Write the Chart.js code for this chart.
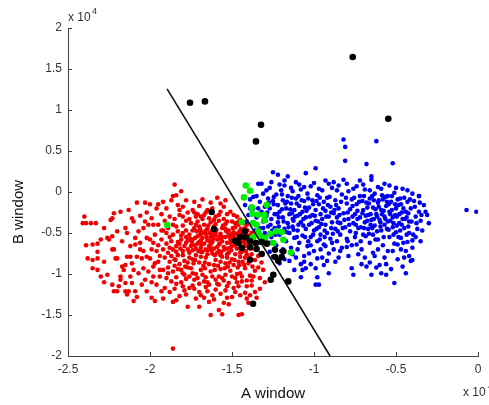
<!DOCTYPE html>
<html>
<head>
<meta charset="utf-8">
<script src="https://cdn.jsdelivr.net/npm/chart.js@4/dist/chart.umd.min.js"></script>
<style>
  html, body { margin: 0; padding: 0; background: #fff; }
  #chart { display: block; }
</style>
</head>
<body>
<canvas id="chart" width="489" height="405"></canvas>
<script>
// axis ticks (A window x 10^4, B window x 10^4)
const xTicks = [-2.5, -2, -1.5, -1, -0.5, 0];
const yTicks = [-2, -1.5, -1, -0.5, 0, 0.5, 1, 1.5, 2];

// decision boundary, two ends [A, B]
const boundary = [[-1.896, 1.258], [-0.902, -2.0]];

// class 1 (red)
const redPoints = [
  [-2.41,-0.38],[-2.39,-0.38],[-2.36,-0.38],[-2.33,-0.38],[-2.40,-0.30],[-2.39,-0.65],[-2.35,-0.64],[-2.32,-0.63],
  [-2.38,-0.81],[-2.35,-0.83],[-2.32,-0.81],[-2.35,-0.93],[-2.32,-0.95],[-2.30,-1.03],[-2.28,-1.10],[-2.26,-1.01],
  [-2.28,-0.85],[-2.32,-0.73],[-2.23,-1.13],[-2.22,-1.21],[-2.20,-1.21],[-2.19,-1.15],[-2.18,-1.03],[-2.18,-1.07],
  [-2.21,-0.81],[-2.20,-0.81],[-2.17,-0.91],[-2.15,-0.89],[-2.16,-0.95],[-2.15,-1.21],[-2.14,-1.25],[-2.13,-1.21],
  [-2.15,-1.11],[-2.11,-1.11],[-2.09,-1.21],[-2.10,-1.33],[-2.12,-1.03],[-2.10,-0.95],[-2.11,-0.87],[-2.14,-0.79],
  [-2.12,-0.79],[-2.08,-0.79],[-2.09,-0.64],[-2.09,-0.56],[-2.14,-0.50],[-2.15,-0.44],[-2.11,-0.32],[-2.10,-0.36],
  [-2.13,-0.22],[-2.18,-0.24],[-2.22,-0.26],[-2.23,-0.32],[-2.24,-0.34],[-2.25,-0.58],[-2.26,-0.56],[-2.23,-0.54],
  [-2.22,-0.70],[-2.23,-0.70],[-2.08,-0.13],[-2.03,-0.13],[-2.00,-0.15],[-1.95,-0.15],[-1.99,-0.32],[-2.03,-0.36],
  [-2.04,-0.44],[-2.07,-0.48],[-2.02,-0.56],[-2.06,-0.62],[-2.04,-0.72],[-2.02,-0.79],[-2.00,-0.81],[-2.04,-0.93],
  [-2.01,-0.97],[-1.98,-1.03],[-2.03,-1.07],[-2.05,-1.13],[-2.02,-1.21],[-1.99,-1.29],[-1.97,-1.33],[-1.96,-1.13],
  [-1.93,-1.21],[-1.94,-1.03],[-1.98,-0.91],[-1.95,-0.85],[-1.96,-0.72],[-1.98,-0.62],[-1.97,-0.52],[-1.95,-0.40],
  [-1.98,-0.40],[-2.01,-0.40],[-1.93,-0.27],[-1.96,-0.20],
  [-1.85,0.09],[-1.86,-0.05],[-1.87,-0.10],[-1.92,-0.12],[-1.90,-0.20],[-1.83,-0.16],[-1.80,-0.18],[-1.88,-0.30],
  [-1.91,-0.35],[-1.85,-0.33],[-1.82,-0.28],[-1.92,-0.47],[-1.89,-0.44],[-1.86,-0.52],[-1.83,-0.48],[-1.80,-0.41],
  [-1.78,-0.35],[-1.93,-0.58],[-1.90,-0.63],[-1.87,-0.60],[-1.84,-0.66],[-1.81,-0.58],[-1.78,-0.62],[-1.92,-0.70],
  [-1.89,-0.74],[-1.86,-0.70],[-1.83,-0.77],[-1.80,-0.72],[-1.77,-0.70],[-1.91,-0.80],[-1.88,-0.85],[-1.85,-0.82],
  [-1.82,-0.88],[-1.79,-0.84],[-1.76,-0.80],[-1.92,-0.95],[-1.89,-0.92],[-1.86,-0.97],[-1.83,-0.94],[-1.80,-0.99],
  [-1.77,-0.92],[-1.90,-1.05],[-1.87,-1.09],[-1.84,-1.04],[-1.81,-1.10],[-1.78,-1.06],[-1.91,-1.17],[-1.88,-1.22],
  [-1.85,-1.18],[-1.82,-1.27],[-1.79,-1.20],[-1.86,-1.34],[-1.84,-1.32],[-1.76,-1.17],[-1.77,-1.40],[-1.86,-1.91],
  [-1.74,-0.22],[-1.70,-0.17],[-1.66,-0.25],[-1.62,-0.20],[-1.58,-0.28],[-1.55,-0.18],[-1.51,-0.24],[-1.47,-0.30],
  [-1.72,-0.30],[-1.64,-0.32],[-1.57,-0.14],
  [-1.75,-0.38],[-1.73,-0.44],[-1.71,-0.36],[-1.69,-0.48],[-1.67,-0.40],[-1.65,-0.45],[-1.63,-0.37],[-1.61,-0.42],
  [-1.60,-0.49],[-1.58,-0.35],[-1.56,-0.44],[-1.54,-0.39],[-1.52,-0.47],[-1.50,-0.36],[-1.48,-0.43],[-1.46,-0.40],
  [-1.44,-0.48],[-1.68,-0.33],[-1.62,-0.47],[-1.55,-0.33],[-1.49,-0.49],[-1.42,-0.44],[-1.74,-0.47],[-1.70,-0.42],
  [-1.76,-0.52],[-1.74,-0.58],[-1.73,-0.65],[-1.71,-0.54],[-1.70,-0.61],[-1.69,-0.68],[-1.68,-0.56],[-1.67,-0.63],
  [-1.66,-0.51],[-1.65,-0.59],[-1.64,-0.66],[-1.63,-0.55],[-1.62,-0.61],[-1.61,-0.69],[-1.60,-0.53],[-1.59,-0.58],
  [-1.58,-0.64],[-1.57,-0.51],[-1.56,-0.60],[-1.55,-0.67],[-1.54,-0.55],[-1.53,-0.62],[-1.52,-0.52],[-1.51,-0.58],
  [-1.50,-0.66],[-1.49,-0.54],[-1.48,-0.61],[-1.47,-0.69],[-1.46,-0.56],[-1.45,-0.63],[-1.44,-0.52],[-1.43,-0.59],
  [-1.42,-0.66],[-1.41,-0.55],[-1.40,-0.62],[-1.39,-0.69],[-1.72,-0.69],[-1.66,-0.70],[-1.59,-0.67],[-1.53,-0.69],
  [-1.47,-0.51],[-1.44,-0.68],[-1.57,-0.57],[-1.63,-0.64],[-1.69,-0.59],[-1.51,-0.62],[-1.45,-0.57],
  [-1.76,-0.74],[-1.74,-0.82],[-1.72,-0.77],[-1.70,-0.86],[-1.68,-0.73],[-1.66,-0.80],[-1.64,-0.88],[-1.62,-0.75],
  [-1.60,-0.83],[-1.58,-0.72],[-1.56,-0.79],[-1.54,-0.87],[-1.52,-0.74],[-1.50,-0.82],[-1.48,-0.76],[-1.46,-0.85],
  [-1.44,-0.73],[-1.42,-0.80],[-1.40,-0.87],[-1.38,-0.76],[-1.36,-0.83],[-1.69,-0.79],[-1.57,-0.85],[-1.45,-0.79],
  [-1.61,-0.89],[-1.53,-0.80],[-1.65,-0.76],[-1.49,-0.89],
  [-1.75,-0.93],[-1.72,-1.00],[-1.69,-0.95],[-1.66,-1.04],[-1.63,-0.97],[-1.60,-1.07],[-1.57,-0.94],[-1.54,-1.01],
  [-1.51,-0.96],[-1.48,-1.05],[-1.45,-0.99],[-1.42,-0.93],[-1.39,-1.02],[-1.36,-0.96],[-1.33,-1.05],[-1.67,-1.09],
  [-1.55,-1.08],[-1.44,-1.09],[-1.34,-0.92],
  [-1.74,-1.14],[-1.70,-1.22],[-1.66,-1.16],[-1.62,-1.26],[-1.58,-1.13],[-1.54,-1.20],[-1.50,-1.28],[-1.46,-1.15],
  [-1.42,-1.23],[-1.38,-1.14],[-1.35,-1.29],[-1.72,-1.30],[-1.60,-1.19],[-1.48,-1.22],[-1.39,-1.26],
  [-1.70,-1.40],[-1.64,-1.34],[-1.58,-1.44],[-1.52,-1.37],[-1.46,-1.50],[-1.44,-1.49],[-1.56,-1.49],[-1.63,-1.50],
  [-1.40,-1.35],
  [-1.37,-0.56],[-1.36,-0.63],[-1.35,-0.70],[-1.34,-0.78],[-1.32,-0.86],[-1.31,-0.95],[-1.30,-1.10],[-1.33,-1.18],
  [-1.36,-1.22],[-1.38,-0.50],
  [-1.745,-0.61],[-1.715,-0.48],[-1.685,-0.64],[-1.655,-0.55],[-1.625,-0.71],[-1.595,-0.46],[-1.565,-0.73],[-1.535,-0.48],
  [-1.505,-0.71],[-1.475,-0.58],[-1.445,-0.45],[-1.415,-0.72],[-1.735,-0.87],[-1.705,-0.72],[-1.675,-0.90],[-1.645,-0.41],
  [-1.615,-0.57],[-1.585,-0.90],[-1.555,-0.41],[-1.525,-0.91],[-1.495,-0.44],[-1.465,-0.92],[-1.435,-0.85],[-1.405,-0.47],
  [-1.385,-0.58],[-1.375,-0.91],[-1.725,-0.56],[-1.695,-0.52],[-1.665,-0.86],[-1.635,-0.50],[-1.605,-0.77],[-1.575,-0.54],
  [-1.545,-0.70],[-1.515,-0.86],[-1.485,-0.65],[-1.455,-0.89],[-1.425,-0.62],[-1.395,-0.80],[-1.78,-0.55],[-1.79,-0.66],
  [-1.77,-0.86],[-1.80,-0.50],[-1.81,-0.95],[-1.79,-1.01],[-1.76,-1.03],[-1.73,-1.07],[-1.70,-1.12],[-1.64,-1.13],
  [-1.58,-1.03],[-1.52,-1.11],[-1.47,-1.00],[-1.41,-1.08],[-1.37,-1.03],[-1.71,-0.27],[-1.67,-0.28],[-1.60,-0.30],
  [-1.53,-0.27],[-1.45,-0.34],[-1.77,-0.25],[-1.82,-0.22],
  [-1.84,-0.42],[-1.81,-0.53],[-1.78,-0.47],[-1.75,-0.66],[-1.72,-0.40],[-1.69,-0.73],[-1.66,-0.47],[-1.63,-0.69],
  [-1.60,-0.39],[-1.57,-0.77],[-1.54,-0.45],[-1.51,-0.68],[-1.48,-0.38],[-1.45,-0.74],[-1.42,-0.51],[-1.39,-0.64],
  [-1.83,-0.61],[-1.80,-0.77],[-1.77,-0.59],[-1.74,-0.71],[-1.71,-0.63],[-1.68,-0.50],[-1.65,-0.71],[-1.62,-0.52],
  [-1.59,-0.74],[-1.56,-0.55],[-1.53,-0.76],[-1.50,-0.51],[-1.47,-0.63],[-1.44,-0.59],[-1.41,-0.76],[-1.38,-0.69],
  [-1.845,-0.83],[-1.815,-0.69],[-1.785,-0.91],[-1.755,-0.57],[-1.725,-0.83],[-1.695,-0.45],[-1.665,-0.93],[-1.635,-0.60],
  [-1.605,-0.95],[-1.575,-0.63],[-1.545,-0.93],[-1.515,-0.54],[-1.485,-0.83],[-1.455,-0.48],[-1.425,-0.89],[-1.395,-0.53],
  [-1.74,-0.99],[-1.71,-1.05],[-1.68,-1.01],[-1.65,-1.10],[-1.62,-1.03],[-1.59,-1.12],[-1.56,-1.05],[-1.53,-1.15],
  [-1.50,-1.03],[-1.47,-1.10],[-1.44,-1.03],[-1.41,-1.15],[-1.38,-1.08],
  [-1.73,-1.18],[-1.69,-1.26],[-1.65,-1.21],[-1.61,-1.31],[-1.57,-1.24],[-1.53,-1.29],[-1.49,-1.17],[-1.45,-1.26],
  [-1.41,-1.30],[-1.67,-1.29],[-1.55,-1.35],
  [-1.80,-0.30],[-1.76,-0.33],[-1.73,-0.25],[-1.69,-0.30],[-1.65,-0.22],[-1.61,-0.34],[-1.57,-0.24],[-1.53,-0.36],
  [-1.49,-0.28],[-1.46,-0.36],[-1.43,-0.38],[-1.41,-0.40],
  [-1.78,-0.10],[-1.73,-0.12],[-1.68,-0.09],[-1.63,-0.13],[-1.59,-0.07],[-1.54,-0.10],[-1.84,-0.04],[-1.81,0.01],
  [-1.88,-0.55],[-1.87,-0.78],[-1.85,-0.90],[-1.84,-0.73],[-1.82,-0.63],[-1.88,-0.68],[-1.86,-0.40],[-1.90,-0.50],
  [-1.89,-0.99],[-1.84,-1.12],[-1.80,-1.15],[-1.78,-1.25],
  [-1.95,-0.65],[-1.94,-0.78],[-1.97,-0.87],[-1.94,-0.95],[-1.99,-0.70],[-1.93,-0.47],[-2.00,-0.58],[-2.05,-0.81],
  [-2.07,-0.99],[-2.06,-0.70],[-2.12,-0.66],[-2.17,-0.60],[-2.20,-0.48],[-2.28,-0.44],[-2.30,-0.58],[-2.06,-0.29],
  [-2.02,-0.25],[-1.99,-1.10],[-2.08,-1.28],[-1.92,-1.30]
];

// class 2 (blue)
const bluePoints = [
  [-1.42,-0.16],[-1.40,-0.28],[-1.39,-0.09],[-1.38,-0.38],[-1.37,-0.20],[-1.36,-0.47],[-1.35,-0.05],[-1.35,-0.31],
  [-1.34,0.10],[-1.37,-0.55],
  [-1.33,-0.12],[-1.32,-0.24],[-1.32,0.10],[-1.31,-0.36],[-1.31,-0.02],[-1.30,-0.50],[-1.30,-0.18],[-1.29,-0.29],
  [-1.29,-0.62],[-1.28,-0.08],[-1.28,-0.42],[-1.33,-0.44],
  [-1.27,0.05],[-1.27,-0.20],[-1.26,-0.33],[-1.26,-0.55],[-1.25,0.24],[-1.25,-0.11],[-1.24,-0.44],[-1.24,-0.27],
  [-1.23,-0.03],[-1.23,-0.65],[-1.22,0.21],[-1.22,-0.16],[-1.22,-0.37],[-1.21,-0.52],[-1.21,-0.24],[-1.20,0.02],
  [-1.20,-0.72],[-1.25,-0.79],[-1.21,-0.87],
  [-1.19,-0.10],[-1.19,-0.31],[-1.18,-0.45],[-1.18,0.08],[-1.17,-0.20],[-1.17,-0.60],[-1.16,0.19],[-1.16,-0.38],
  [-1.16,-0.05],[-1.15,-0.27],[-1.15,-0.50],[-1.14,-0.14],[-1.14,-0.68],[-1.13,0.01],[-1.13,-0.33],[-1.13,-0.42],
  [-1.12,-0.22],[-1.12,-0.56],[-1.15,-0.84],[-1.12,-0.95],
  [-1.11,0.12],[-1.11,-0.08],[-1.10,-0.29],[-1.10,-0.47],[-1.09,-0.17],[-1.09,-0.62],[-1.08,0.03],[-1.08,-0.37],
  [-1.07,-0.24],[-1.07,-0.53],[-1.06,-0.11],[-1.06,-0.78],[-1.05,0.23],[-1.05,-0.31],[-1.05,-0.45],[-1.04,-0.02],
  [-1.04,-0.66],[-1.07,-0.95],[-1.05,-0.93],[-1.08,-1.04],[-1.06,-0.85],[-1.10,-0.70],
  [-1.03,-0.19],[-1.03,-0.40],[-1.02,0.07],[-1.02,-0.55],[-1.01,-0.28],[-1.01,-0.10],[-1.00,-0.47],[-1.00,-0.72],
  [-0.99,0.29],[-0.99,-0.22],[-0.99,-0.35],[-0.98,-0.04],[-0.98,-0.60],[-0.98,-0.81],[-0.97,-0.15],[-0.97,-0.43],
  [-0.96,-0.27],[-0.96,-0.52],[-0.98,-1.04],[-0.97,-1.13],[-0.99,-1.13],[-1.02,-0.88],
  [-0.95,0.02],[-0.95,-0.33],[-0.94,-0.12],[-0.94,-0.64],[-0.93,0.14],[-0.93,-0.40],[-0.93,-0.23],[-0.92,-0.50],
  [-0.92,-0.07],[-0.91,-0.30],[-0.91,-0.75],[-0.90,-0.18],[-0.90,-0.57],[-0.89,-0.37],[-0.89,0.05],[-0.88,-0.26],
  [-0.88,-0.70],[-0.94,-0.89],[-0.91,-0.99],[-0.93,-0.66],
  [-0.87,-0.45],[-0.87,-0.10],[-0.86,-0.31],[-0.86,-0.60],[-0.85,0.08],[-0.85,-0.20],[-0.84,-0.52],[-0.84,-0.38],
  [-0.83,-0.03],[-0.83,-0.68],[-0.82,0.64],[-0.82,-0.26],[-0.82,0.15],[-0.81,0.55],[-0.81,-0.43],[-0.81,0.38],
  [-0.80,-0.14],[-0.80,-0.57],[-0.85,-0.80],
  [-0.79,-0.33],[-0.79,0.01],[-0.78,-0.48],[-0.78,-0.21],[-0.77,-0.65],[-0.77,-0.09],[-0.77,-0.93],[-0.76,-0.38],
  [-0.76,-1.01],[-0.75,-0.27],[-0.75,-0.55],[-0.74,0.07],[-0.74,-0.15],[-0.73,-0.44],[-0.73,-0.76],[-0.72,-0.31],
  [-0.72,-0.05],[-0.71,-0.88],
  [-0.70,-0.22],[-0.70,-0.52],[-0.69,0.03],[-0.69,-0.37],[-0.68,0.34],[-0.68,-0.13],[-0.68,-0.91],[-0.67,-0.45],
  [-0.67,-0.28],[-0.66,-0.62],[-0.66,-0.08],[-0.65,0.19],[-0.65,0.15],[-0.65,-0.34],[-0.65,-1.01],[-0.64,-0.19],
  [-0.64,-0.52],[-0.64,-0.74],
  [-0.63,-0.02],[-0.63,-0.41],[-0.62,-0.27],[-0.62,0.62],[-0.62,-0.92],[-0.61,-0.13],[-0.61,-0.58],[-0.60,-0.34],
  [-0.60,-0.89],[-0.59,0.04],[-0.59,-0.22],[-0.59,-0.47],[-0.59,-0.99],[-0.58,-0.09],[-0.58,-0.65],[-0.57,-0.30],
  [-0.57,-0.40],[-0.56,-0.17],[-0.56,-0.88],[-0.56,-1.01],
  [-0.55,-0.05],[-0.55,-0.36],[-0.54,-0.24],[-0.54,-0.55],[-0.53,-0.12],[-0.53,-0.94],[-0.52,0.35],[-0.52,-0.43],
  [-0.52,-0.31],[-0.51,-0.01],[-0.51,-0.63],[-0.51,-1.11],[-0.50,-0.20],[-0.50,-0.49],[-0.49,-0.82],[-0.49,-0.09],
  [-0.48,-0.38],[-0.48,-0.27],
  [-0.47,-0.15],[-0.47,-0.56],[-0.46,-0.33],[-0.46,-0.91],[-0.45,-0.07],[-0.45,-0.44],[-0.45,-0.80],[-0.44,-0.24],
  [-0.44,-0.99],[-0.43,-0.61],[-0.43,-0.12],[-0.42,-0.36],[-0.42,-0.50],[-0.41,-0.20],[-0.40,-0.59],[-0.40,-0.68],
  [-0.41,-0.84],
  [-0.39,-0.11],[-0.38,-0.30],[-0.37,-0.45],[-0.36,-0.05],[-0.36,-0.24],[-0.35,-0.35],[-0.34,-0.47],[-0.33,-0.16],
  [-0.32,-0.24],[-0.31,-0.28],[-0.30,-0.38],[-0.40,-0.83],[-0.07,-0.22],[-0.01,-0.24],
  [-1.285,-0.25],[-1.265,-0.40],[-1.245,-0.15],[-1.235,-0.52],[-1.215,-0.31],[-1.195,-0.21],[-1.185,-0.58],[-1.165,-0.12],
  [-1.155,-0.43],[-1.135,-0.26],[-1.125,-0.35],[-1.105,-0.55],[-1.095,-0.05],[-1.085,-0.27],[-1.065,-0.41],[-1.055,-0.19],
  [-1.035,-0.60],[-1.025,-0.30],[-1.005,-0.15],[-0.985,-0.45],[-0.965,-0.07],[-0.955,-0.39],[-0.935,-0.55],[-0.915,-0.16],
  [-0.895,-0.44],[-0.875,-0.22],[-0.855,-0.48],[-0.835,-0.12],[-0.815,-0.34],[-0.795,-0.60],[-0.765,-0.17],[-0.745,-0.40],
  [-0.735,-0.23],[-0.715,-0.60],[-0.705,-0.11],[-0.695,-0.44],[-0.685,-0.29],[-0.675,-0.19],[-0.665,-0.51],[-0.655,-0.40],
  [-0.645,-0.05],[-0.635,-0.33],[-0.625,-0.21],[-0.615,-0.48],[-0.605,-0.10],[-0.595,-0.37],[-0.585,-0.27],[-0.575,-0.55],
  [-0.565,-0.06],[-0.555,-0.45],[-0.545,-0.15],[-0.535,-0.35],[-0.525,-0.22],[-0.515,-0.52],[-0.505,-0.28],[-0.495,-0.41],
  [-0.485,-0.16],[-0.475,-0.47],[-0.465,-0.25],[-0.455,-0.62],[-0.435,-0.31],[-0.425,-0.42],[-0.415,-0.09],[-0.395,-0.52],
  [-1.31,-0.44],[-1.27,-0.62],[-1.19,-0.70],[-1.11,-0.80],[-1.03,-0.75],[-0.95,-0.80],[-0.87,-0.85],[-0.79,-0.78],
  [-0.71,-0.70],[-0.63,-0.78],[-0.55,-0.72],[-0.47,-0.70],[-1.26,0.12],[-1.18,0.14],[-1.09,0.09],[-1.00,0.11],
  [-0.91,0.10],[-0.86,0.02],[-0.76,0.04],[-0.70,0.09],[-0.61,0.06],[-0.54,0.08],[-0.46,0.04],[-0.36,-0.05],
  [-1.295,-0.35],[-1.275,-0.13],[-1.255,-0.47],[-1.245,-0.06],[-1.225,-0.27],[-1.215,-0.42],[-1.195,-0.03],[-1.185,-0.36],
  [-1.175,-0.14],[-1.165,-0.49],[-1.145,-0.21],[-1.135,-0.07],[-1.125,-0.46],[-1.115,-0.30],[-1.105,-0.14],[-1.095,-0.40],
  [-1.075,-0.10],[-1.065,-0.33],[-1.055,-0.55],[-1.045,-0.23],[-1.035,-0.08],[-1.015,-0.38],[-1.005,-0.52],[-0.995,-0.29],
  [-0.985,-0.11],[-0.975,-0.36],[-0.965,-0.58],[-0.945,-0.20],[-0.935,-0.47],[-0.925,-0.30],[-0.905,-0.06],[-0.895,-0.25],
  [-0.885,-0.51],[-0.865,-0.16],[-0.855,-0.37],[-0.845,-0.28],[-0.825,-0.44],[-0.805,-0.07],[-0.795,-0.25],[-0.785,-0.40],
  [-0.765,-0.30],[-0.755,-0.07],[-0.745,-0.50],[-0.735,-0.33],[-0.725,-0.12],[-0.715,-0.43],[-0.705,-0.26],[-0.695,-0.05],
  [-0.685,-0.54],[-0.675,-0.35],[-0.665,-0.14],[-0.655,-0.27],[-0.645,-0.44],[-0.635,-0.10],[-0.625,-0.58],[-0.615,-0.30],
  [-0.605,-0.18],[-0.595,-0.42],[-0.585,-0.04],[-0.575,-0.23],[-0.565,-0.33],[-0.555,-0.12],[-0.545,-0.46],[-0.535,-0.27],
  [-0.525,-0.05],[-0.515,-0.38],[-0.505,-0.15],[-0.495,-0.30],[-0.485,-0.55],[-0.475,-0.08],[-0.465,-0.40],[-0.455,-0.20],
  [-0.445,-0.33],[-0.435,-0.52],[-0.425,-0.26],[-0.405,-0.36],[-0.385,-0.18],[-0.375,-0.38],[-0.355,-0.13],[-0.345,-0.28],
  [-1.41,-0.36],[-1.39,-0.20],[-1.37,-0.06],[-1.35,-0.40],[-1.34,-0.20],[-1.32,-0.55],[-1.27,-0.73],[-1.23,-0.80],
  [-1.18,-0.82],[-1.13,-0.76],[-1.08,-0.88],[-1.02,-0.65],[-0.99,-0.93],[-0.96,-0.70],[-0.92,-0.84],[-0.89,-0.62],
  [-0.84,-0.72],[-0.80,-0.67],[-0.74,-0.64],[-0.69,-0.80],[-0.66,-0.86],[-0.61,-0.70],[-0.57,-0.80],[-0.52,-0.72],
  [-0.49,-0.64],[-0.44,-0.72],[-0.42,-0.78],[-0.38,-0.55],[-0.35,-0.60],
  [-1.29,0.02],[-1.21,0.09],[-1.14,0.05],[-1.06,0.06],[-0.97,0.04],[-0.88,0.12],[-0.80,0.10],[-0.72,0.14],
  [-0.66,0.02],[-0.57,0.10],[-0.50,0.05],[-0.43,0.02],[-0.40,-0.02]
];

// green samples
const greenPoints = [
  [-1.416,0.08],[-1.39,0.016],[-1.427,-0.066],[-1.288,-0.155],[-1.380,-0.188],[-1.376,-0.265],[-1.340,-0.277],
  [-1.303,-0.277],[-1.303,-0.346],[-1.370,-0.378],[-1.441,-0.366],[-1.350,-0.399],[-1.340,-0.48],[-1.268,-0.509],
  [-1.232,-0.48],[-1.197,-0.488],[-1.329,-0.533],[-1.299,-0.561],[-1.370,-0.549],[-1.187,-0.582],[-1.248,-0.622],
  [-1.140,-0.737],[-1.895,-0.402]
];

// black samples
const blackPoints = [
  [-1.756,1.089],[-1.665,1.105],[-1.323,0.82],[-1.354,0.617],[-0.764,1.646],[-0.547,0.894],
  [-1.624,-0.244],[-1.610,-0.451],[-1.421,-0.48],[-1.451,-0.549],[-1.415,-0.554],[-1.482,-0.594],[-1.462,-0.622],
  [-1.390,-0.602],[-1.354,-0.622],[-1.319,-0.61],[-1.288,-0.63],[-1.441,-0.683],[-1.390,-0.671],[-1.350,-0.695],
  [-1.319,-0.756],[-1.390,-0.826],[-1.238,-0.704],[-1.187,-0.724],[-1.238,-0.793],[-1.197,-0.793],[-1.218,-0.838],
  [-1.248,-1.009],[-1.264,-1.07],[-1.157,-1.09],[-1.372,-1.362]
];

const axisColor = '#404040';
const textColor = '#333333';
const fontFamily = '"Liberation Sans", Arial, sans-serif';

const toXY = (pts) => pts.map(p => ({ x: p[0], y: p[1] }));

// inward tick marks, the "x 10^4" multipliers and the B window label
const matlabAxes = {
    id: 'matlabAxes',
    afterDraw(chart) {
        const { ctx, chartArea, scales } = chart;
        ctx.save();
        ctx.strokeStyle = axisColor;
        ctx.lineWidth = 1;
        scales.x.ticks.forEach(t => {
            const px = Math.round(scales.x.getPixelForValue(t.value)) + 0.5;
            ctx.beginPath();
            ctx.moveTo(px, chartArea.bottom);
            ctx.lineTo(px, chartArea.bottom - 4);
            ctx.stroke();
        });
        scales.y.ticks.forEach(t => {
            const py = Math.round(scales.y.getPixelForValue(t.value)) + 0.5;
            ctx.beginPath();
            ctx.moveTo(chartArea.left, py);
            ctx.lineTo(chartArea.left + 4, py);
            ctx.stroke();
        });

        ctx.fillStyle = textColor;
        ctx.textBaseline = 'alphabetic';
        ctx.textAlign = 'left';
        ctx.font = '12px ' + fontFamily;
        ctx.fillText('x 10', chartArea.left, 21);
        ctx.fillText('x 10', chartArea.right - 15, 396);
        ctx.font = '9px ' + fontFamily;
        ctx.fillText('4', chartArea.left + 24, 14);
        ctx.fillText('4', chartArea.right + 10, 389);

        // vertical axis title
        ctx.fillStyle = '#111111';
        ctx.font = '15px ' + fontFamily;
        ctx.textAlign = 'center';
        ctx.textBaseline = 'middle';
        ctx.translate(19, 212);
        ctx.rotate(-Math.PI / 2);
        ctx.fillText('B window', 0, 0);
        ctx.restore();
    }
};

const ctx = document.getElementById('chart');

new Chart(ctx, {
    type: 'scatter',
    data: {
        datasets: [
            {
                label: 'boundary',
                data: toXY(boundary),
                showLine: true,
                borderColor: '#111111',
                borderWidth: 1.6,
                pointRadius: 0,
                fill: false,
            },
            {
                label: 'black',
                data: toXY(blackPoints),
                backgroundColor: '#000000',
                borderWidth: 0,
                pointRadius: 3.3,
            },
            {
                label: 'green',
                data: toXY(greenPoints),
                backgroundColor: '#00ee00',
                borderWidth: 0,
                pointRadius: 3.3,
            },
            {
                label: 'blue',
                data: toXY(bluePoints),
                backgroundColor: '#0000f0',
                borderWidth: 0,
                pointRadius: 2.3,
            },
            {
                label: 'red',
                data: toXY(redPoints),
                backgroundColor: '#f00000',
                borderWidth: 0,
                pointRadius: 2.3,
            },
        ],
    },
    options: {
        responsive: false,
        animation: false,
        events: [],
        layout: {
            padding: { top: 28, right: 11, left: 0, bottom: 0 },
        },
        plugins: {
            legend: { display: false },
            tooltip: { enabled: false },
        },
        scales: {
            x: {
                type: 'linear',
                min: -2.5,
                max: 0,
                afterBuildTicks: (scale) => {
                    scale.ticks = xTicks.map(v => ({ value: v }));
                },
                afterFit: (scale) => { scale.height = 49; },
                grid: { display: false, drawTicks: false },
                border: { display: true, color: axisColor, width: 1 },
                ticks: {
                    color: textColor,
                    font: { family: fontFamily, size: 12 },
                    padding: 6,
                    maxRotation: 0,
                    autoSkip: false,
                    callback: (v) => String(v),
                },
                title: {
                    display: true,
                    text: 'A window',
                    color: '#111111',
                    font: { family: fontFamily, size: 15 },
                    padding: { top: 0, bottom: 2 },
                },
            },
            y: {
                type: 'linear',
                min: -2,
                max: 2,
                afterBuildTicks: (scale) => {
                    scale.ticks = yTicks.map(v => ({ value: v }));
                },
                afterFit: (scale) => { scale.width = 68; },
                grid: { display: false, drawTicks: false },
                border: { display: true, color: axisColor, width: 1 },
                ticks: {
                    color: textColor,
                    font: { family: fontFamily, size: 12 },
                    padding: 6,
                    autoSkip: false,
                    callback: (v) => String(v),
                },
            },
        },
    },
    plugins: [matlabAxes],
});
</script>
</body>
</html>
